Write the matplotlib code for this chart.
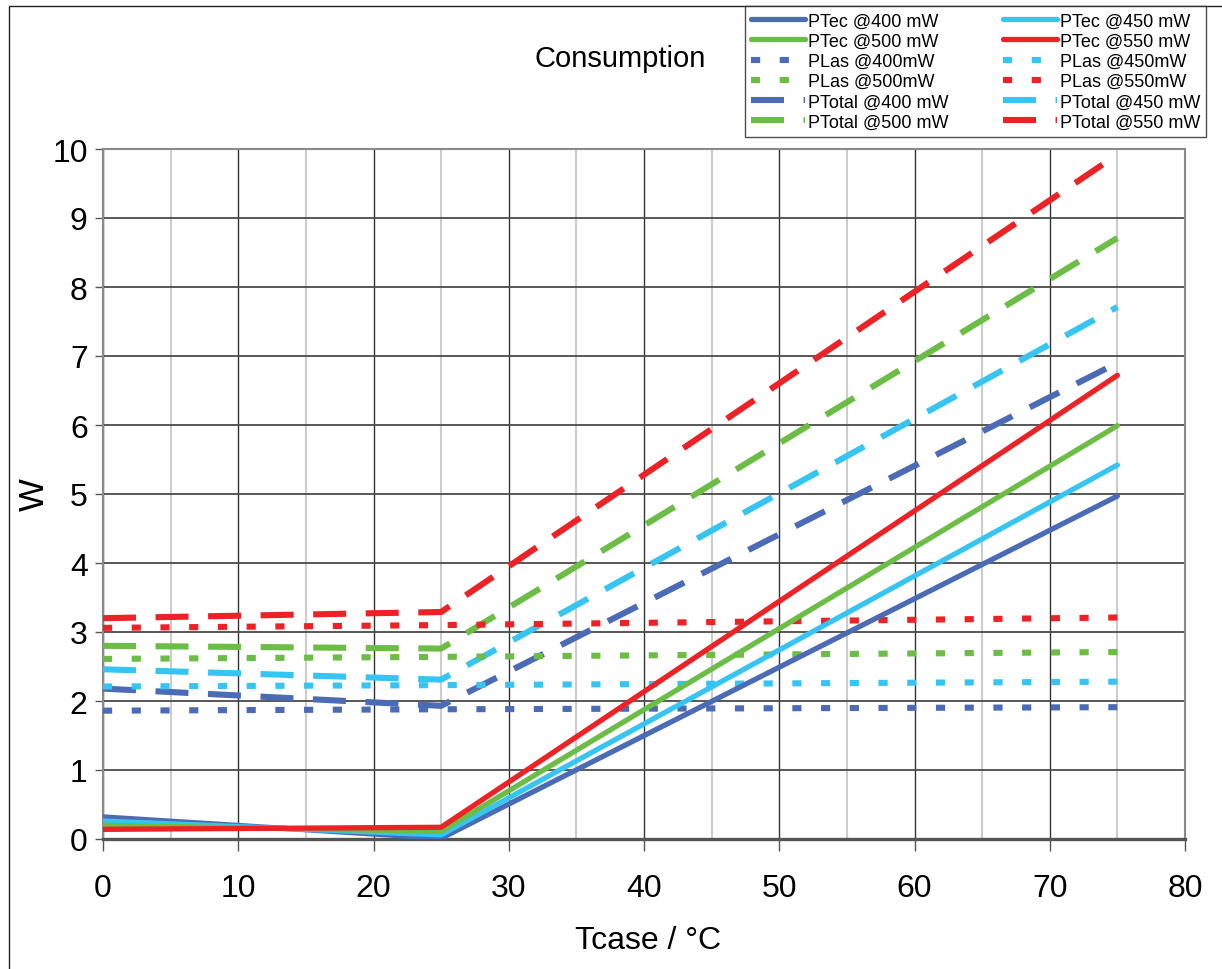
import matplotlib
matplotlib.use("Agg")
import matplotlib.pyplot as plt
from matplotlib.patches import Rectangle
from matplotlib.ticker import MultipleLocator

# Case temperature points (degC)
tcase = [0, 25, 75]

# TEC power (W)
ptec_400 = [0.32, 0.01, 4.97]
ptec_450 = [0.26, 0.06, 5.42]
ptec_500 = [0.20, 0.11, 5.99]
ptec_550 = [0.14, 0.17, 6.72]

# Laser power (W)
plas_400 = [1.86, 1.88, 1.91]
plas_450 = [2.21, 2.23, 2.28]
plas_500 = [2.61, 2.64, 2.71]
plas_550 = [3.06, 3.10, 3.21]

# Total power (W)
ptot_400 = [2.18, 1.93, 6.90]
ptot_450 = [2.46, 2.31, 7.71]
ptot_500 = [2.80, 2.76, 8.71]
ptot_550 = [3.20, 3.29, 9.92]

x_ticks = [0, 10, 20, 30, 40, 50, 60, 70, 80]
y_ticks = [0, 1, 2, 3, 4, 5, 6, 7, 8, 9, 10]

BLUE = "#4b6bb7"
CYAN = "#36c5f2"
GREEN = "#6bbd45"
RED = "#ec2227"

NARROW = ["Liberation Sans Narrow", "Liberation Sans", "DejaVu Sans"]
REGULAR = ["Liberation Sans", "DejaVu Sans"]

fig = plt.figure(figsize=(12.22, 9.70), dpi=100)
ax = fig.add_axes([103 / 1222, 130 / 970, 1082 / 1222, 690 / 970])

LW = 4.4
DASH_TOT = (5.4, 3.2)
DASH_LAS = (1.5, 3.2)

h = {}
for key, y, c in [("tot400", ptot_400, BLUE), ("tot450", ptot_450, CYAN),
                  ("tot500", ptot_500, GREEN), ("tot550", ptot_550, RED)]:
    h[key], = ax.plot(tcase, y, color=c, lw=LW, dashes=DASH_TOT, zorder=3)
for key, y, c in [("las400", plas_400, BLUE), ("las450", plas_450, CYAN),
                  ("las500", plas_500, GREEN), ("las550", plas_550, RED)]:
    h[key], = ax.plot(tcase, y, color=c, lw=LW, dashes=DASH_LAS, zorder=3)
for key, y, c in [("tec400", ptec_400, BLUE), ("tec450", ptec_450, CYAN),
                  ("tec500", ptec_500, GREEN), ("tec550", ptec_550, RED)]:
    h[key], = ax.plot(tcase, y, color=c, lw=3.8, solid_capstyle="round", zorder=4)

ax.set_xlim(0, 80)
ax.set_ylim(0, 10)
ax.set_xticks(x_ticks)
ax.set_yticks(y_ticks)
ax.xaxis.set_minor_locator(MultipleLocator(5))

# gridlines: dark majors, light minors on x
ax.grid(True, which="major", axis="y", color="#4a4a4a", lw=1.3, zorder=1)
ax.grid(True, which="major", axis="x", color="#333333", lw=1.0, zorder=1)
ax.grid(True, which="minor", axis="x", color="#cccccc", lw=1.5, zorder=0)

for side in ["top", "right", "left"]:
    ax.spines[side].set_color("#8a8a8a")
    ax.spines[side].set_linewidth(1.5)
ax.spines["bottom"].set_color("#555555")
ax.spines["bottom"].set_linewidth(2.4)

ax.tick_params(axis="x", which="major", length=8.5, width=1.0, color="#555555",
               pad=16, labelsize=23)
ax.tick_params(axis="x", which="minor", length=0)
ax.tick_params(axis="y", length=6, width=1.0, color="#555555", pad=5, labelsize=23)
for lab in ax.get_xticklabels():
    lab.set_family(NARROW)
for lab in ax.get_yticklabels():
    lab.set_family(REGULAR)

ax.set_xlabel("Tcase / °C", family=NARROW, fontsize=23)
ax.xaxis.set_label_coords(0.504, -0.124)
fig.text(34 / 1222, 1 - 495 / 970, "W", rotation=90, ha="center", va="center",
         family=REGULAR, fontsize=25)
fig.text(620 / 1222, 1 - 67 / 970, "Consumption", ha="center", va="baseline",
         family=NARROW, fontsize=21)

order = [("tec400", "PTec @400 mW"), ("tec500", "PTec @500 mW"),
         ("las400", "PLas @400mW"), ("las500", "PLas @500mW"),
         ("tot400", "PTotal @400 mW"), ("tot500", "PTotal @500 mW"),
         ("tec450", "PTec @450 mW"), ("tec550", "PTec @550 mW"),
         ("las450", "PLas @450mW"), ("las550", "PLas @550mW"),
         ("tot450", "PTotal @450 mW"), ("tot550", "PTotal @550 mW")]
leg = fig.legend([h[k] for k, _ in order], [t for _, t in order], ncol=2,
                 loc="upper left", bbox_to_anchor=(745 / 1222, 1 - 7 / 970),
                 prop={"family": NARROW, "size": 13}, frameon=True, fancybox=False,
                 handlelength=3.0, handletextpad=0.15, columnspacing=3.0,
                 labelspacing=0.18, borderpad=0.35, borderaxespad=0)
leg.get_frame().set_edgecolor("#222222")
leg.get_frame().set_linewidth(1.0)

# outer chart frame
fig.patches.append(Rectangle((9 / 1222, -0.1), 2.0, 1.1 - 7 / 970, fill=False,
                             edgecolor="#222222", lw=1.0,
                             transform=fig.transFigure, figure=fig))

fig.savefig("out.png", dpi=100)
